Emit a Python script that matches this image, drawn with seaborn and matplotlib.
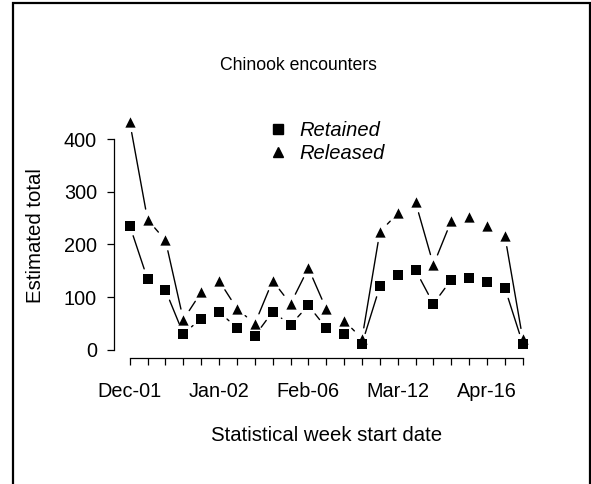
import numpy as np
import pandas as pd
import matplotlib.pyplot as plt
import seaborn as sns
from matplotlib.lines import Line2D
from matplotlib.patches import Rectangle

# Weekly estimates
weeks = list(range(23))
retained = [236, 134, 113, 30, 59, 72, 41, 26, 72, 47, 84, 41, 29, 11, 120, 141, 151, 87, 133, 136, 128, 117, 11]
released = [433, 247, 208, 57, 109, 131, 78, 49, 131, 87, 155, 77, 55, 21, 224, 259, 280, 161, 245, 252, 236, 216, 20]
tick_weeks = [0, 5, 10, 15, 20]
tick_dates = ["Dec-01", "Jan-02", "Feb-06", "Mar-12", "Apr-16"]

sns.set_style("ticks")
plt.rcParams['font.family'] = ['Liberation Sans', 'DejaVu Sans']
for k in ['text.color', 'axes.labelcolor', 'xtick.color', 'ytick.color', 'axes.edgecolor']:
    plt.rcParams[k] = 'black'

df = pd.DataFrame({
    'week': weeks * 2,
    'total': retained + released,
    'type': ['Retained'] * len(weeks) + ['Released'] * len(weeks),
})

fig = plt.figure(figsize=(5.91, 4.84), dpi=100)
ax = fig.add_axes([114 / 591, 1 - 358 / 484, (538.5 - 114) / 591, (358 - 113) / 484])
ax.set_xlim(-0.88, 22.88)
ax.set_ylim(-16, 450)

# R style type="b": line segments with a gap around each point
gap = 10.8  # pixels
trans = ax.transData
inv = trans.inverted()
rows = []
for name, grp in df.groupby('type', sort=False):
    pts = trans.transform(grp[['week', 'total']].to_numpy(dtype=float))
    for i in range(len(pts) - 1):
        p0, p1 = pts[i], pts[i + 1]
        d = p1 - p0
        L = np.hypot(*d)
        if L <= 2 * gap:
            continue
        a, b = inv.transform([p0 + d * gap / L, p1 - d * gap / L])
        rows.append(dict(seg=f"{name}{i}", week=a[0], total=a[1]))
        rows.append(dict(seg=f"{name}{i}", week=b[0], total=b[1]))
segs = pd.DataFrame(rows)

sns.lineplot(data=segs, x='week', y='total', units='seg', estimator=None,
             color='black', lw=1.0, legend=False, ax=ax)
sns.scatterplot(data=df[df['type'] == 'Retained'], x='week', y='total', marker='s',
                s=44, color='black', linewidth=0, ax=ax, zorder=3)
sns.scatterplot(data=df[df['type'] == 'Released'], x='week', y='total', marker='^',
                s=55, color='black', linewidth=0, ax=ax, zorder=3)

# axes in R style
sns.despine(ax=ax)
ax.spines['left'].set_bounds(0, 400)
ax.spines['bottom'].set_bounds(0, 22)
for sp in ['left', 'bottom']:
    ax.spines[sp].set_linewidth(0.9)
ax.set_yticks([0, 100, 200, 300, 400])
ax.set_xticks(weeks)
labels = [''] * len(weeks)
for w, lab in zip(tick_weeks, tick_dates):
    labels[w] = lab
ax.set_xticklabels(labels)
ax.tick_params(axis='both', direction='out', length=5.3, width=0.9, labelsize=14.3)
ax.tick_params(axis='x', pad=12)
ax.tick_params(axis='y', pad=7)

ax.set_xlabel('Statistical week start date', fontsize=14.7)
ax.xaxis.set_label_coords(0.5, (358 - 426) / 245)
ax.set_ylabel('Estimated total', fontsize=14.7)
ax.yaxis.set_label_coords(-0.163, 0.5)

fig.text(298 / 591, 1 - 66 / 484, 'Chinook encounters', ha='center', va='center', fontsize=12.7)

handles = [Line2D([], [], marker='s', ls='', color='black', ms=6.6),
           Line2D([], [], marker='^', ls='', color='black', ms=7.4)]
ax.legend(handles, ['Retained', 'Released'], loc='upper left',
          bbox_to_anchor=(257.5 / 591, 1 - 111 / 484), bbox_transform=fig.transFigure,
          frameon=False, borderpad=0, handlelength=1.0, handletextpad=0.6,
          labelspacing=0.2, prop=dict(style='italic', size=14.5))

# frame around the figure
fig.patches.append(Rectangle((13 / 591, -0.1), (589.5 - 13) / 591, 1.1 - 3.5 / 484,
                             transform=fig.transFigure, fill=False, lw=1.6,
                             edgecolor='black', clip_on=False))

fig.savefig('out.png', dpi=100)
